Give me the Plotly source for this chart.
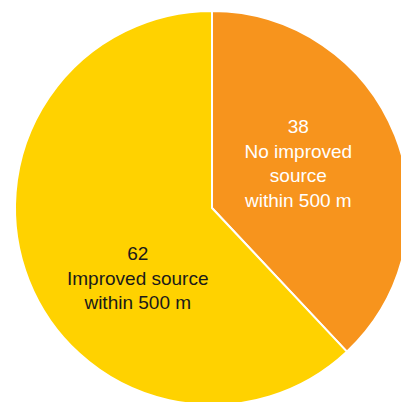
import plotly.graph_objects as go

labels = ["No improved source within 500 m", "Improved source within 500 m"]
label_lines = [["No improved", "source", "within 500 m"], ["Improved source", "within 500 m"]]
values = [38, 62]
colors = ["#F7941D", "#FFD200"]
text_colors = ["#FFFFFF", "#1A1A1A"]

W, H = 425, 420
cx, cy, r = 212, 208, 197

fig = go.Figure(go.Pie(
    labels=labels,
    values=values,
    sort=False,
    direction="clockwise",
    rotation=0,
    marker=dict(colors=colors, line=dict(color="white", width=2)),
    textinfo="none",
    hoverinfo="label+value",
    showlegend=False,
    domain=dict(x=[(cx - r) / W, (cx + r) / W], y=[(H - cy - r) / H, (H - cy + r) / H]),
))

# label centres in pixels (from top-left)
label_pos = [(298, 164), (138, 278)]
for v, lines, col, (px, py) in zip(values, label_lines, text_colors, label_pos):
    fig.add_annotation(
        x=px / W, y=1 - py / H, xref="paper", yref="paper",
        xanchor="center", yanchor="middle",
        text="<br>".join([str(v)] + lines),
        showarrow=False, align="center",
        font=dict(family="Liberation Sans, Arial, sans-serif", size=19, color=col),
    )

fig.update_layout(
    width=W, height=H,
    margin=dict(l=0, r=0, t=0, b=0),
    paper_bgcolor="white",
    plot_bgcolor="white",
)

fig.write_html(
    "out.html",
    config={"displayModeBar": False},
    post_script="document.body.style.margin='0';document.body.style.overflow='hidden';document.documentElement.style.overflow='hidden';",
)
